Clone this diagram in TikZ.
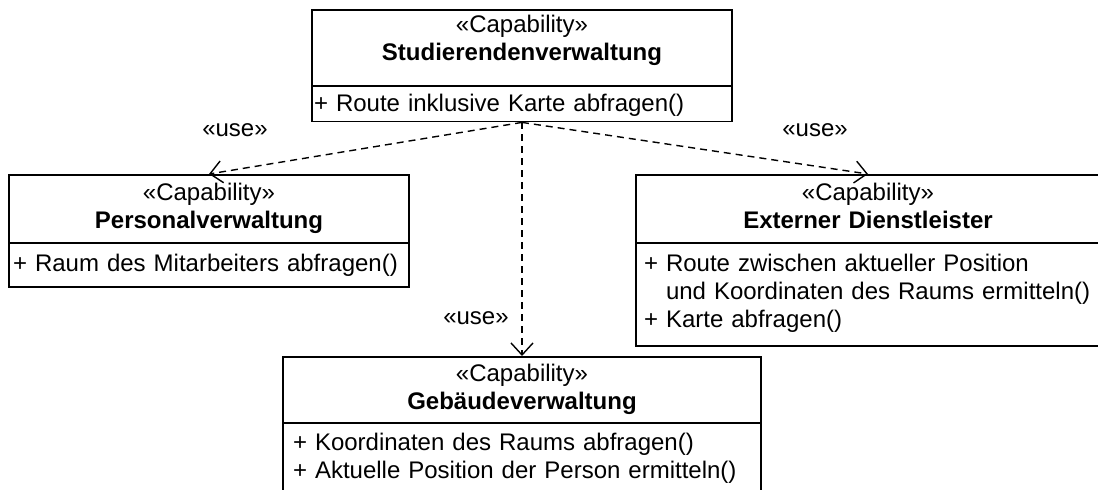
\documentclass[tikz,border=0pt]{standalone}
\usepackage{fontspec}
\setmainfont{Liberation Sans}
\usepackage{xcolor}
\usepackage{tikz}
\usetikzlibrary{
shapes.multipart,
arrows.meta
}
\definecolor{ink}{HTML}{000000}

\newcommand{\topgap}[1]{\rule{0pt}{#1pt}}
\newcommand{\botgap}[1]{\rule[-#1pt]{0pt}{#1pt}}
\newcommand{\centerrow}[1]{\noindent\makebox[\hsize]{#1}\par}
\newcommand{\leftrow}[1]{\noindent\makebox[\hsize][l]{#1}\par}

\tikzset{
capbox/.style={
rectangle split,
rectangle split parts=2,
draw=ink,
line width=1.8pt,
inner ysep=0pt,
anchor=north,
font=\fontsize{24}{28}\selectfont
},
usearrow/.style={
draw=ink,
line width=1.4pt,
dash pattern=on 7pt off 5pt,
-{Straight Barb[length=12pt,width=22pt]}
},
uselabel/.style={
inner sep=0pt,
font=\fontsize{24}{28}\selectfont
}
}

\begin{document}
\begin{tikzpicture}[x=1pt,y=1pt]

\useasboundingbox (0,0) rectangle (1098,-490);

\node[
capbox,
text width=416pt,
inner xsep=2pt
]
(stud)
at (522,-9)
{
\centerrow{\topgap{22}«Capability»}
\centerrow{\textbf{Studierendenverwaltung}\botgap{24}}
\nodepart{two}
\leftrow{\topgap{25}+ Route inklusive Karte abfragen()\botgap{9}}
};

\node[
capbox,
text width=392pt,
inner xsep=4pt
]
(pers)
at (209,-174)
{
\centerrow{\topgap{24.5}«Capability»}
\centerrow{\textbf{Personalverwaltung}\botgap{14}}
\nodepart{two}
\leftrow{\topgap{27}+ Raum des Mitarbeiters abfragen()\botgap{15}}
};

\node[
capbox,
text width=448pt,
inner xsep=8pt
]
(extern)
at (868,-174)
{
\centerrow{\topgap{24.5}«Capability»}
\centerrow{\textbf{Externer Dienstleister}\botgap{14}}
\nodepart{two}
\leftrow{\topgap{27}+ Route zwischen aktueller Position}
\leftrow{\phantom{+} und Koordinaten des Raums ermitteln()}
\leftrow{+ Karte abfragen()\botgap{18}}
};

\node[
capbox,
text width=458pt,
inner xsep=10pt
]
(geb)
at (522,-356)
{
\centerrow{\topgap{23.5}«Capability»}
\centerrow{\textbf{Gebäudeverwaltung}\botgap{13}}
\nodepart{two}
\leftrow{\topgap{26}+ Koordinaten des Raums abfragen()}
\leftrow{+ Aktuelle Position der Person ermitteln()\botgap{20}}
};

% abhaengigkeiten
\draw[usearrow] (stud.south) -- (pers.north);
\draw[usearrow] (stud.south) -- (extern.north);
\draw[usearrow] (stud.south) -- (geb.north);

\node[uselabel] (useP) at (235,-130) {«use»};
\node[uselabel] (useE) at (815,-130) {«use»};
\node[uselabel] (useG) at (476,-318) {«use»};

\end{tikzpicture}
\end{document}
